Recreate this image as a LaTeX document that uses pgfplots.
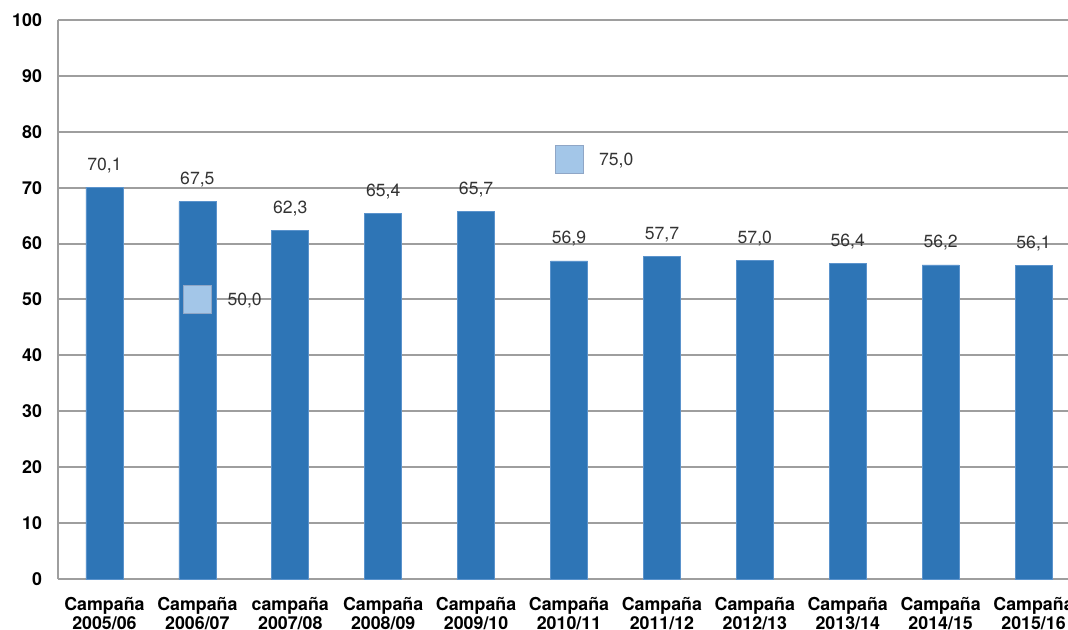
\documentclass[border=0pt]{standalone}
\usepackage{pgfplots}
\pgfplotsset{compat=1.18}
\usepackage{fontspec}
\setmainfont{TeX Gyre Heros}

\definecolor{barblue}{HTML}{2E75B6}
\definecolor{baredge}{HTML}{5B93CC}
\definecolor{sqfill}{HTML}{A3C6E8}
\definecolor{sqedge}{HTML}{8FA6C6}
\definecolor{gridgray}{HTML}{9E9E9E}

\begin{document}
\begin{tikzpicture}
\begin{axis}[
  at={(0,0)}, anchor=south west,
  scale only axis,
  width=511pt, height=279.5pt,
  xmin=-0.5, xmax=10.5,
  ymin=0, ymax=100,
  ytick={0,10,...,100},
  xtick={0,...,10},
  xticklabels={Campaña\\2005/06, Campaña\\2006/07, campaña\\2007/08,
    Campaña\\2008/09, Campaña\\2009/10, Campaña\\2010/11, Campaña\\2011/12,
    Campaña\\2012/13, Campaña\\2013/14, Campaña\\2014/15, Campaña\\2015/16},
  axis lines*=left,
  axis line style={gridgray, line width=1pt, -},
  ymajorgrids,
  grid style={gridgray, line width=1pt},
  major tick length=0pt,
  /pgf/number format/assume math mode=true,
  tick label style={font=\fontsize{8.9}{9.6}\selectfont\bfseries},
  xticklabel style={align=center, yshift=-5.5pt},
  yticklabel style={xshift=-4.5pt},
  clip=false,
]
\addplot[ybar, bar width=18.5pt, fill=barblue, draw=baredge, line width=0.3pt,
  nodes near coords,
  nodes near coords style={anchor=base, yshift=8.5pt, text=black!80,
    font=\fontsize{8.8}{10}\selectfont,
    /pgf/number format/.cd, fixed, fixed zerofill, precision=1, use comma},
] coordinates {
  (0,70.1) (1,67.5) (2,62.3) (3,65.4) (4,65.7) (5,56.9)
  (6,57.7) (7,57.0) (8,56.4) (9,56.2) (10,56.1)
};
\addplot[only marks, mark=square*, mark size=7pt,
  mark options={fill=sqfill, draw=sqedge, line width=0.5pt},
  nodes near coords,
  nodes near coords style={anchor=base west, xshift=11.5pt, yshift=-3pt,
    text=black!80, font=\fontsize{8.8}{10}\selectfont,
    /pgf/number format/.cd, fixed, fixed zerofill, precision=1, use comma},
] coordinates {(1,50.0) (5,75.0)};
\end{axis}
\pgfresetboundingbox
\useasboundingbox (-29pt,-25.5pt) rectangle (505pt,289.5pt);
\end{tikzpicture}
\end{document}
